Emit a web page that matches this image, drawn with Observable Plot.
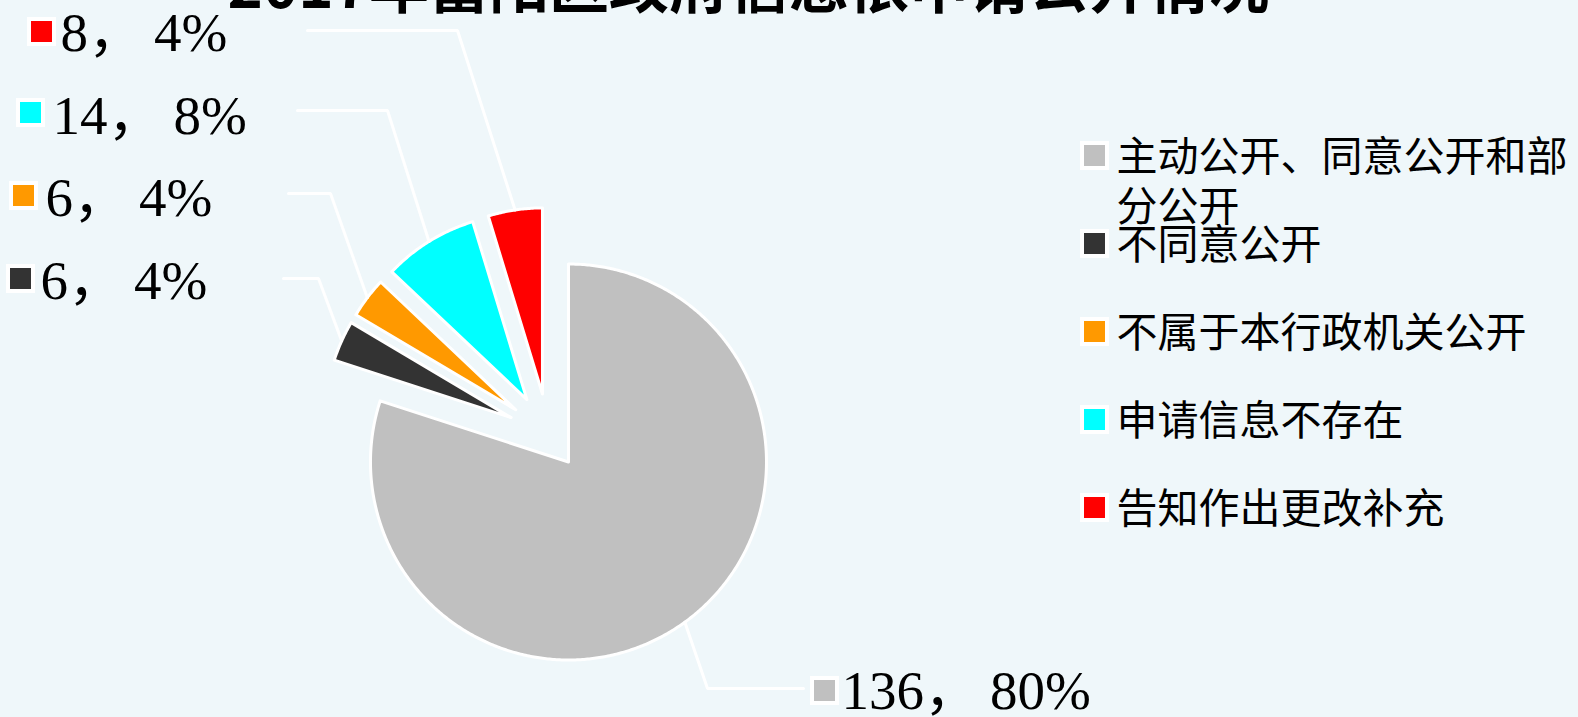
<!DOCTYPE html>
<html><head><meta charset="utf-8">
<script src="https://cdn.jsdelivr.net/npm/d3@7"></script>
<script src="https://cdn.jsdelivr.net/npm/@observablehq/plot@0.6"></script>
<style>
html,body{margin:0;padding:0;background:#eff7fa;overflow:hidden}
</style></head><body><div id="chart"></div>
<script>
// ---- data ----
const title = "2017年富阳区政府信息依申请公开情况";
const categories = ["主动公开、同意公开和部分公开", "不同意公开", "不属于本行政机关公开", "申请信息不存在", "告知作出更改补充"];
const legendLabels = ["主动公开、同意公开和部\n分公开", "不同意公开", "不属于本行政机关公开", "申请信息不存在", "告知作出更改补充"];
const values = [136, 6, 6, 14, 8];
const percentLabels = ["80%", "4%", "4%", "8%", "4%"];
const colors = ["#c0c0c0", "#333333", "#ff9900", "#00ffff", "#ff0000"];

// ---- layout (pixels) ----
const W = 1578, H = 717;
const center = {x: 548, y: 434};
const explode = [34, 41, 41, 41, 41];
const radius = [198, 186, 186, 186, 186];
// manually placed data labels: key square, text start/baseline, leader start & elbow
const labelLayout = [
  {sq: [824, 690], tx: [841, 708], lead: [[803, 688], [707, 688]]},
  {sq: [20, 278], tx: [40, 298], lead: [[283, 278], [318, 278]]},
  {sq: [23, 195], tx: [45, 215], lead: [[288, 193], [330, 193]]},
  {sq: [30, 112], tx: [52, 133], lead: [[297, 110], [387, 110]]},
  {sq: [41, 31], tx: [60, 50], lead: [[307, 30], [457, 30]]}
];
const legendX = 1094, legendTop = 155, legendStep = 88;
const legendFont = 41, legendLH = 1.22;

// ---- geometry from data ----
const arcs = d3.pie().sort(null).startAngle(0).endAngle(2 * Math.PI)(values);
const pol = (o, r, a) => [o[0] + r * Math.sin(a), o[1] - r * Math.cos(a)];
const slicePts = [];
const tips = [];
arcs.forEach((a, i) => {
  const m = (a.startAngle + a.endAngle) / 2;
  const v = pol([center.x, center.y], explode[i], m);
  tips.push(pol(v, radius[i], m));
  slicePts.push({cat: categories[i], x: v[0], y: v[1]});
  const n = Math.max(2, Math.ceil((a.endAngle - a.startAngle) / (Math.PI / 360)));
  for (let k = 0; k <= n; k++) {
    const ang = a.startAngle + (a.endAngle - a.startAngle) * k / n;
    const p = pol(v, radius[i], ang);
    slicePts.push({cat: categories[i], x: p[0], y: p[1]});
  }
});
const leaderPts = [];
labelLayout.forEach((l, i) => {
  [l.lead[0], l.lead[1], tips[i]].forEach(p => leaderPts.push({i, x: p[0], y: p[1]}));
});
const labelRows = categories.map((c, i) => ({
  cat: c, sx: labelLayout[i].sq[0], sy: labelLayout[i].sq[1],
  tx: labelLayout[i].tx[0], ty: labelLayout[i].tx[1],
  text: `${values[i]}，\u2009${percentLabels[i]}`
}));
const legendRows = categories.map((c, i) => ({
  cat: c, label: legendLabels[i],
  y: legendTop + i * legendStep
}));

const chart = Plot.plot({
  width: W, height: H,
  margin: 0,
  x: {domain: [0, W], range: [0, W], axis: null},
  y: {domain: [0, H], range: [0, H], axis: null},
  color: {domain: categories, range: colors},
  style: {background: "#eff7fa"},
  marks: [
    Plot.line(slicePts, {x: "x", y: "y", z: "cat", fill: "cat", stroke: "white", strokeWidth: 3, curve: "linear-closed", strokeLinejoin: "round"}),
    Plot.line(leaderPts, {x: "x", y: "y", z: "i", stroke: "white", strokeWidth: 3, strokeLinejoin: "miter"}),
    Plot.dot(labelRows, {x: "sx", y: "sy", symbol: "square", r: 14.1, fill: "cat", stroke: "white", strokeWidth: 4}),
    Plot.text(labelRows, {x: "tx", y: "ty", text: "text", textAnchor: "start", lineAnchor: "bottom", fontSize: 55, fontFamily: "'Liberation Serif', 'Noto Sans CJK SC', serif", fill: "#000"}),
    Plot.dot(legendRows, {x: legendX, y: "y", symbol: "square", r: 14.1, fill: "cat", stroke: "white", strokeWidth: 4}),
    Plot.text(legendRows, {x: legendX + 22, y: d => d.y + 15.6 - 0.71 * legendLH * legendFont, text: "label", textAnchor: "start", lineAnchor: "top", lineHeight: legendLH, fontSize: legendFont, fontFamily: "'Noto Sans CJK SC', sans-serif", fill: "#000"}),
    Plot.text([title], {frameAnchor: "top-left", dx: 227, dy: 7, text: d => d, textAnchor: "start", lineAnchor: "bottom", fontSize: 60, fontWeight: "bold", fontFamily: "'Noto Sans CJK SC', sans-serif", fill: "#000"})
  ]
});
document.getElementById("chart").appendChild(chart);
</script></body></html>
